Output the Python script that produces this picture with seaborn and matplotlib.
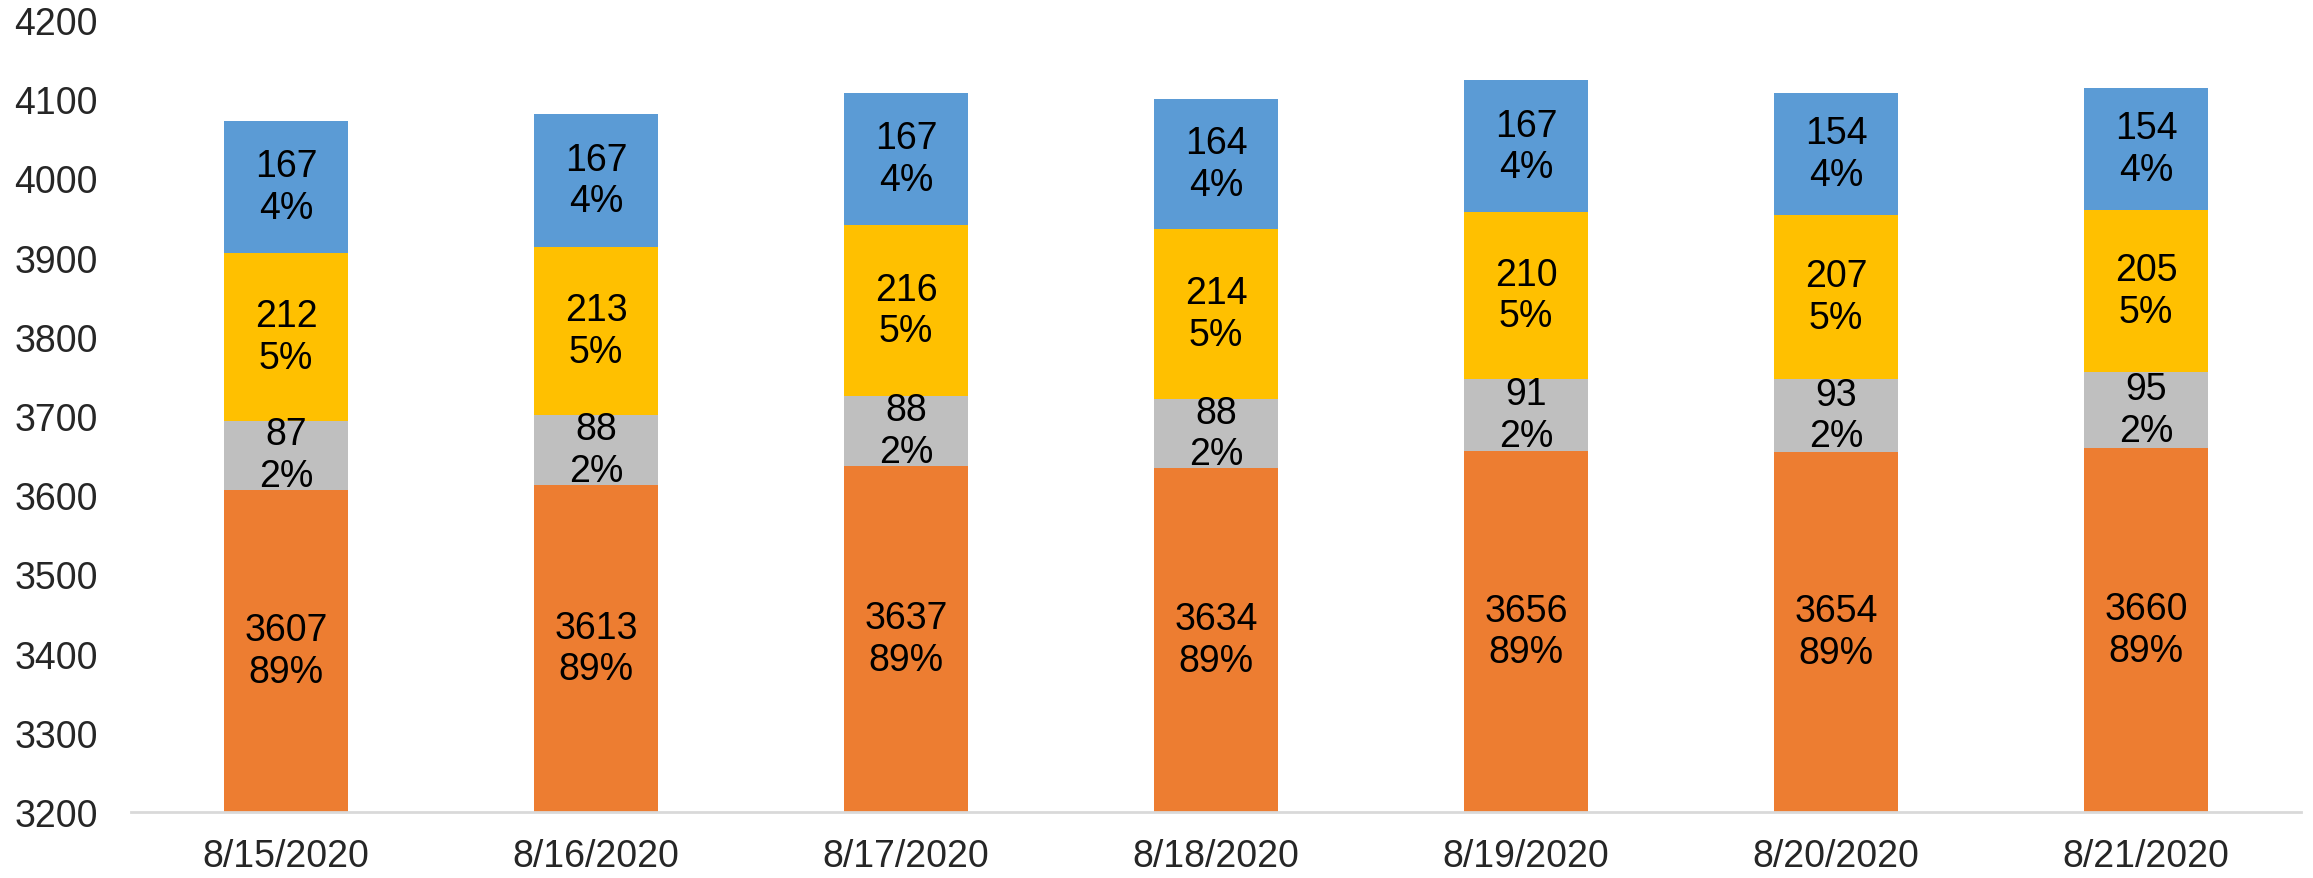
import numpy as np
import pandas as pd
import seaborn as sns
import matplotlib.pyplot as plt

# datos
fechas = ['8/15/2020', '8/16/2020', '8/17/2020', '8/18/2020', '8/19/2020', '8/20/2020', '8/21/2020']
naranja = [3607, 3613, 3637, 3634, 3656, 3654, 3660]
gris = [87, 88, 88, 88, 91, 93, 95]
amarillo = [212, 213, 216, 214, 210, 207, 205]
azul = [167, 167, 167, 164, 167, 154, 154]

series = [naranja, gris, amarillo, azul]
colores = ['#ED7D31', '#BFBFBF', '#FFC000', '#5B9BD5']
y_min, y_max = 3200, 4200

sns.set_theme(style='white')
plt.rcParams['font.family'] = ['Liberation Sans', 'DejaVu Sans']

fig = plt.figure(figsize=(23.13, 8.79), dpi=100)
ax = fig.add_axes([131 / 2313, 66 / 879, 2170 / 2313, 792 / 879])

datos = np.array(series, dtype=float)
acumulado = np.cumsum(datos, axis=0)
totales = acumulado[-1]

# barras apiladas: dibujar de arriba hacia abajo con sumas acumuladas
for i in range(len(series) - 1, -1, -1):
    df = pd.DataFrame({'fecha': fechas, 'valor': acumulado[i]})
    sns.barplot(data=df, x='fecha', y='valor', color=colores[i], width=0.4,
                saturation=1, linewidth=0, ax=ax)

# etiquetas: valor y porcentaje centradas en la parte visible
for i in range(len(series)):
    for j in range(len(fechas)):
        base = acumulado[i - 1][j] if i > 0 else 0
        tope = acumulado[i][j]
        centro = (max(base, y_min) + tope) / 2
        pct = datos[i][j] / totales[j] * 100
        ax.text(j, centro, f'{int(datos[i][j])}\n{pct:.0f}%', ha='center', va='center',
                fontsize=27, color='black', zorder=10, linespacing=1.2)

ax.set_ylim(y_min, y_max)
ax.set_xlim(-0.5, len(fechas) - 0.5)
ax.set_yticks(range(y_min, y_max + 1, 100))
ax.set_xlabel('')
ax.set_ylabel('')
ax.tick_params(axis='y', labelsize=27, length=0, pad=24)
ax.tick_params(axis='x', labelsize=27, length=0, pad=19)
for lado in ['top', 'right', 'left']:
    ax.spines[lado].set_visible(False)
ax.spines['bottom'].set_color('#D9D9D9')
ax.spines['bottom'].set_linewidth(2)
ax.grid(False)

fig.savefig('out.png', dpi=100)
